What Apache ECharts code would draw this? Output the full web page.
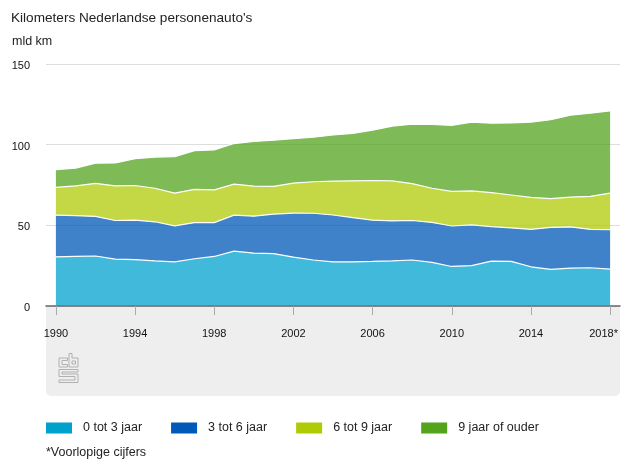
<!DOCTYPE html>
<html>
<head>
<meta charset="utf-8">
<style>
html, body { margin: 0; padding: 0; background: #fff; }
#container { width: 630px; height: 473px; }
</style>
<script src="https://cdn.jsdelivr.net/npm/echarts@6/dist/echarts.min.js"></script>
</head>
<body>
<div id="container"></div>
<script>
var years = ['1990', '1991', '1992', '1993', '1994', '1995', '1996', '1997', '1998', '1999',
    '2000', '2001', '2002', '2003', '2004', '2005', '2006', '2007', '2008', '2009',
    '2010', '2011', '2012', '2013', '2014', '2015', '2016', '2017', '2018*'];
var age0to3 = [30.5, 30.8, 31, 29, 28.8, 28, 27.3, 29.3, 30.7, 34, 32.8, 32.5, 30.3, 28.5, 27.4,
    27.4, 27.6, 28, 28.5, 27, 24.5, 25, 27.8, 27.7, 24.3, 22.7, 23.5, 23.7, 22.8];
var age3to6 = [25.8, 25.2, 24.5, 24, 24.4, 24.2, 22.4, 22.4, 21, 22.3, 22.9, 24.5, 27.3, 29, 29,
    27.4, 25.6, 24.8, 24.5, 24.8, 25.1, 25.3, 21.4, 20.7, 23.2, 26, 25.5, 23.8, 24.5];
var age6to9 = [17.2, 18.5, 20.5, 21.5, 21.5, 20.8, 20.3, 20.6, 20.3, 19.2, 18.6, 17.2, 18.6, 19.5, 21,
    22.8, 24.6, 24.7, 22.8, 21.2, 21.4, 21, 21.1, 20.4, 19.8, 17.8, 18.5, 20.5, 22.7];
var age9plus = [11, 11, 12.5, 14.2, 16.6, 19.3, 22.5, 24, 24.8, 25.2, 27.7, 28.6, 27.6, 27.6, 28.6,
    29.4, 31.2, 34, 36.9, 39.5, 41, 42.7, 43, 44.7, 46.7, 49, 50.8, 51.5, 51];
var seriesNames = ['0 tot 3 jaar', '3 tot 6 jaar', '6 tot 9 jaar', '9 jaar of ouder'];
var seriesColors = ['#00a1cd', '#0058b8', '#afcb05', '#53a31d'];

var font = '"Liberation Sans", Arial, sans-serif';
var textColor = '#222';
var labelSize = 12.5;
var tickSize = 11;

function areaSeries(index, values) {
    return {
        name: seriesNames[index],
        type: 'line',
        stack: 'km',
        symbol: 'none',
        data: values,
        itemStyle: { color: seriesColors[index] },
        lineStyle: { color: '#fff', width: 1.2 },
        areaStyle: { color: seriesColors[index], opacity: 0.75 }
    };
}

// outline of the cbs logo in the grey panel
function logoPart(points) {
    return {
        type: 'polygon',
        z: -5,
        silent: true,
        shape: { points: points },
        style: { fill: 'none', stroke: '#b0b0b0', lineWidth: 1 }
    };
}

var myChart = echarts.init(document.getElementById('container'), null, { renderer: 'canvas' });
myChart.setOption({
    animation: false,
    backgroundColor: '#fff',
    textStyle: { fontFamily: font },
    title: [{
        text: "Kilometers Nederlandse personenauto's",
        left: 11,
        top: 11,
        padding: 0,
        textStyle: { fontFamily: font, fontSize: 13.6, fontWeight: 'normal', color: textColor }
    }, {
        text: 'mld km',
        left: 12,
        top: 35,
        padding: 0,
        textStyle: { fontFamily: font, fontSize: labelSize, fontWeight: 'normal', color: textColor }
    }, {
        text: '*Voorlopige cijfers',
        left: 46,
        top: 446,
        padding: 0,
        textStyle: { fontFamily: font, fontSize: labelSize, fontWeight: 'normal', color: textColor }
    }],
    grid: { left: 46, right: 10, top: 64, bottom: 167 },
    legend: {
        left: 46,
        top: 421.5,
        padding: 0,
        icon: 'rect',
        itemWidth: 26,
        itemHeight: 11,
        itemGap: 29,
        selectedMode: false,
        data: seriesNames,
        itemStyle: { opacity: 1 },
        textStyle: { fontFamily: font, fontSize: labelSize, color: textColor, padding: [0, 0, 0, 6] }
    },
    xAxis: {
        type: 'category',
        boundaryGap: true,
        data: years,
        axisLine: { lineStyle: { color: '#666', width: 1.5 } },
        axisTick: { show: true, alignWithLabel: true, interval: 3, length: 9, lineStyle: { color: '#aaa', width: 1 } },
        axisLabel: {
            interval: 3,
            margin: 22,
            fontSize: tickSize,
            color: '#111',
            fontFamily: font,
            formatter: function (value) {
                return value.indexOf('*') > -1 ? '{last|' + value + '}' : value;
            },
            rich: {
                last: { fontSize: tickSize, color: '#111', fontFamily: font, padding: [0, 13, 0, 0] }
            }
        }
    },
    yAxis: {
        type: 'value',
        min: 0,
        max: 150,
        interval: 50,
        axisLine: { show: false },
        axisTick: { show: false },
        splitLine: { lineStyle: { color: '#ddd' } },
        axisLabel: {
            margin: 16,
            fontSize: tickSize,
            color: '#111',
            fontFamily: font,
            verticalAlign: 'top',
            lineHeight: 4
        }
    },
    graphic: [{
        type: 'rect',
        z: -10,
        silent: true,
        shape: { x: 46, y: 306, width: 574, height: 90, r: [0, 0, 5, 5] },
        style: { fill: '#eeeeee' }
    },
    logoPart([[67.5, 358], [59, 358], [59, 367], [67.5, 367], [67.5, 364.5], [62, 364.5], [62, 360.5], [67.5, 360.5]]),
    logoPart([[69, 353.5], [72, 353.5], [72, 358], [78, 358], [78, 367], [69, 367]]),
    logoPart([[72, 361], [75.5, 361], [75.5, 364], [72, 364]]),
    logoPart([[59, 369.5], [78, 369.5], [78, 372], [62, 372], [62, 374], [78, 374], [78, 382.5], [59, 382.5], [59, 380], [75, 380], [75, 376.5], [59, 376.5]])
    ],
    series: [
        areaSeries(0, age0to3),
        areaSeries(1, age3to6),
        areaSeries(2, age6to9),
        areaSeries(3, age9plus)
    ]
});
</script>
</body>
</html>
